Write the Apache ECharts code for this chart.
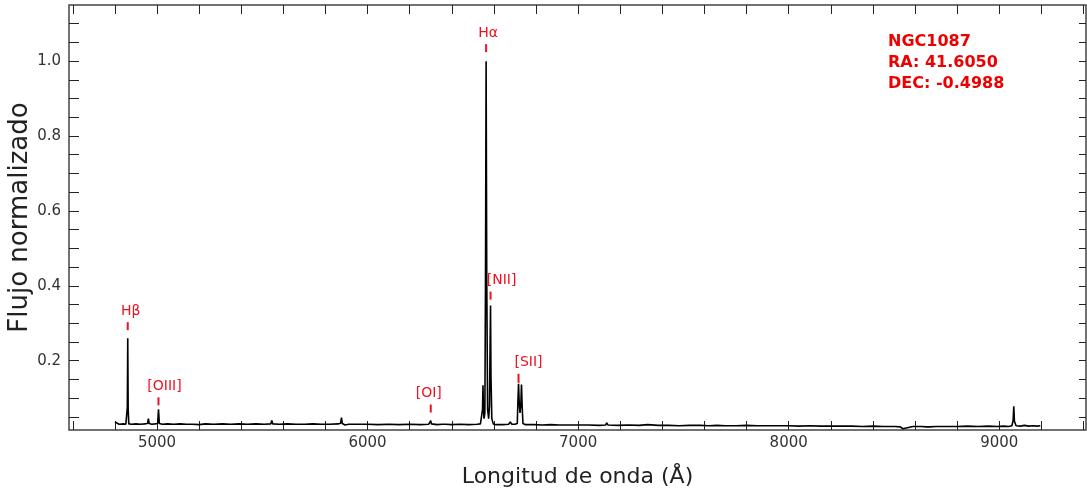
<!DOCTYPE html>
<html><head><meta charset="utf-8">
<script src="https://cdn.jsdelivr.net/npm/echarts@6/dist/echarts.min.js"></script>
<style>html,body{margin:0;padding:0;background:#fff}#c{width:1087px;height:491px}</style>
</head><body><div id="c"></div>
<script>
// ---- data ----
const wavelength = [4800,4803,4820,4840,4852,4857,4859,4861,4863,4866,4880,4900,4920,4940,4955,4959,4963,4975,4990,5003,5007,5011,5025,5050,5080,5110,5140,5170,5200,5230,5270,5310,5350,5390,5430,5470,5510,5540,5545,5550,5580,5620,5660,5700,5740,5780,5820,5860,5872,5876,5880,5893,5910,5950,6000,6050,6100,6150,6200,6250,6290,6297,6300,6303,6330,6355,6364,6370,6400,6440,6480,6520,6536,6543,6546,6548,6550,6553,6557,6560,6563,6566,6570,6575,6579,6582,6584,6586,6590,6597,6610,6640,6670,6678,6685,6700,6711,6714,6717,6720,6724,6728,6731,6734,6738,6750,6790,6830,6870,6910,6960,7000,7050,7100,7130,7136,7142,7190,7240,7290,7330,7380,7430,7480,7530,7580,7620,7660,7700,7750,7800,7850,7900,7950,8000,8050,8100,8150,8200,8250,8300,8350,8400,8450,8490,8498,8506,8530,8542,8550,8590,8630,8655,8662,8670,8700,8750,8800,8850,8900,8950,8990,9020,9045,9060,9066,9069,9072,9080,9100,9120,9140,9160,9180,9195];
const flux = [0.036,0.031,0.030,0.031,0.030,0.032,0.075,0.260,0.070,0.031,0.030,0.031,0.030,0.031,0.032,0.045,0.032,0.030,0.031,0.032,0.070,0.032,0.030,0.031,0.030,0.031,0.030,0.030,0.029,0.031,0.030,0.031,0.030,0.031,0.030,0.031,0.030,0.031,0.040,0.031,0.030,0.031,0.030,0.030,0.031,0.030,0.030,0.031,0.033,0.048,0.032,0.028,0.030,0.030,0.030,0.029,0.030,0.029,0.030,0.029,0.030,0.031,0.040,0.031,0.029,0.030,0.034,0.030,0.029,0.030,0.029,0.030,0.031,0.036,0.070,0.134,0.080,0.045,0.060,0.400,1.000,0.420,0.070,0.045,0.080,0.250,0.347,0.160,0.045,0.031,0.029,0.029,0.030,0.036,0.030,0.030,0.032,0.090,0.138,0.090,0.060,0.085,0.136,0.080,0.032,0.029,0.029,0.028,0.029,0.028,0.028,0.028,0.028,0.027,0.028,0.034,0.028,0.027,0.028,0.027,0.029,0.027,0.027,0.026,0.027,0.027,0.026,0.027,0.026,0.026,0.027,0.026,0.026,0.026,0.026,0.025,0.026,0.025,0.025,0.025,0.025,0.024,0.025,0.024,0.024,0.020,0.024,0.023,0.018,0.023,0.024,0.024,0.023,0.018,0.023,0.024,0.024,0.024,0.025,0.024,0.025,0.024,0.025,0.024,0.026,0.040,0.078,0.038,0.026,0.025,0.027,0.025,0.026,0.025,0.026];

const lineNames = ['Hβ','[OIII]','[OI]','Hα','[NII]','[SII]'];
const lineWavelengths = [4861, 5007, 6300, 6563, 6584, 6717];
const linePeaks = [0.26, 0.07, 0.04, 1.0, 0.347, 0.138];

const xTickLabels = [5000, 6000, 7000, 8000, 9000];
const xTicks = [4600,4800,5000,5200,5400,5600,5800,6000,6200,6400,6600,6800,7000,7200,7400,7600,7800,8000,8200,8400,8600,8800,9000,9200,9400];
const yTickLabels = [0.2, 0.4, 0.6, 0.8, 1.0];
const yTicks = [0.05,0.10,0.15,0.20,0.25,0.30,0.35,0.40,0.45,0.50,0.55,0.60,0.65,0.70,0.75,0.80,0.85,0.90,0.95,1.00,1.05,1.10];
const infoLines = ['NGC1087', 'RA: 41.6050', 'DEC: -0.4988'];
const xTitle = 'Longitud de onda (Å)';
const yTitle = 'Flujo normalizado';

// ---- styling ----
const RED = '#ee1122';
const FONT = '"DejaVu Sans", sans-serif';
const annotStyle = {'Hβ':{dx:3,dy:0}, '[OIII]':{dx:6,dy:4}, '[OI]':{dx:-2,dy:0}, 'Hα':{dx:2,dy:-1}, '[NII]':{dx:11,dy:2}, '[SII]':{dx:10,dy:6,long:true}};

const spectrum = wavelength.map((w, i) => [w, flux[i]]);
const annots = lineWavelengths.map((w, i) => [w, linePeaks[i]]);

const XMIN = 4582, XMAX = 9412, YMIN = 0.0147, YMAX = 1.15;
const tickStyle = {color:'#222', width:1};

const chart = echarts.init(document.getElementById('c'), null, {renderer:'canvas'});
chart.setOption({
  animation: false,
  backgroundColor: '#fff',
  title: {
    text: infoLines.join('\n'), left: 888, top: 31, padding: 0,
    textStyle: {color:'#ee0000', fontWeight:'bold', fontSize:16, lineHeight:21, fontFamily:FONT}
  },
  grid: {left:69, right:1, top:5, bottom:61, containLabel:false, outerBoundsMode:'none',
         show:true, borderColor:'#444', borderWidth:1.5, backgroundColor:'transparent'},
  xAxis: [{
    type:'value', min:XMIN, max:XMAX, position:'bottom',
    name: xTitle, nameLocation:'middle', nameGap:36, nameMoveOverlap:false,
    nameTextStyle:{fontSize:22, color:'#222', fontFamily:FONT},
    axisLine:{show:false}, splitLine:{show:false},
    axisTick:{show:true, inside:true, length:9, customValues:xTicks, lineStyle:tickStyle},
    axisLabel:{customValues:xTickLabels, fontSize:15, color:'#333', margin:6, fontFamily:FONT, formatter:v=>String(v)}
  },{
    type:'value', min:XMIN, max:XMAX, position:'top',
    axisLine:{show:false}, splitLine:{show:false},
    axisTick:{show:true, inside:true, length:9, customValues:xTicks, lineStyle:tickStyle},
    axisLabel:{show:false}
  }],
  yAxis: [{
    type:'value', min:YMIN, max:YMAX, position:'left',
    name: yTitle, nameLocation:'middle', nameGap:36, nameRotate:90, nameMoveOverlap:false,
    nameTextStyle:{fontSize:26, color:'#222', fontFamily:FONT},
    axisLine:{show:false}, splitLine:{show:false},
    axisTick:{show:true, inside:true, length:10, customValues:yTicks, lineStyle:tickStyle},
    axisLabel:{customValues:yTickLabels, fontSize:15, color:'#333', margin:8, fontFamily:FONT, formatter:v=>v.toFixed(1)}
  },{
    type:'value', min:YMIN, max:YMAX, position:'right',
    axisLine:{show:false}, splitLine:{show:false},
    axisTick:{show:true, inside:true, length:7, customValues:yTicks, lineStyle:tickStyle},
    axisLabel:{show:false}
  }],
  series: [{
    type:'line', data: spectrum, showSymbol:false, symbol:'none',
    lineStyle:{color:'#000', width:1.6}, clip:true, z:3
  },{
    type:'custom', data: annots, clip:false, z:4,
    renderItem: function(params, api){
      const i = params.dataIndex;
      const p = api.coord([api.value(0), api.value(1)]);
      const name = lineNames[i];
      const st = annotStyle[name] || {};
      const dx = st.dx || 0, dy = st.dy || 0;
      const y1 = p[1] - 16 + dy, y2 = st.long ? p[1] - 1 : p[1] - 8 + dy;
      return {type:'group', children:[
        {type:'line', shape:{x1:p[0], y1:y1, x2:p[0], y2:y2}, style:{stroke:RED, lineWidth:2}},
        {type:'text', style:{text:name, x:p[0]+dx, y:p[1]-27+dy, align:'center', verticalAlign:'middle', fill:RED, font:'14px ' + FONT}}
      ]};
    }
  }]
});
</script>
</body></html>
